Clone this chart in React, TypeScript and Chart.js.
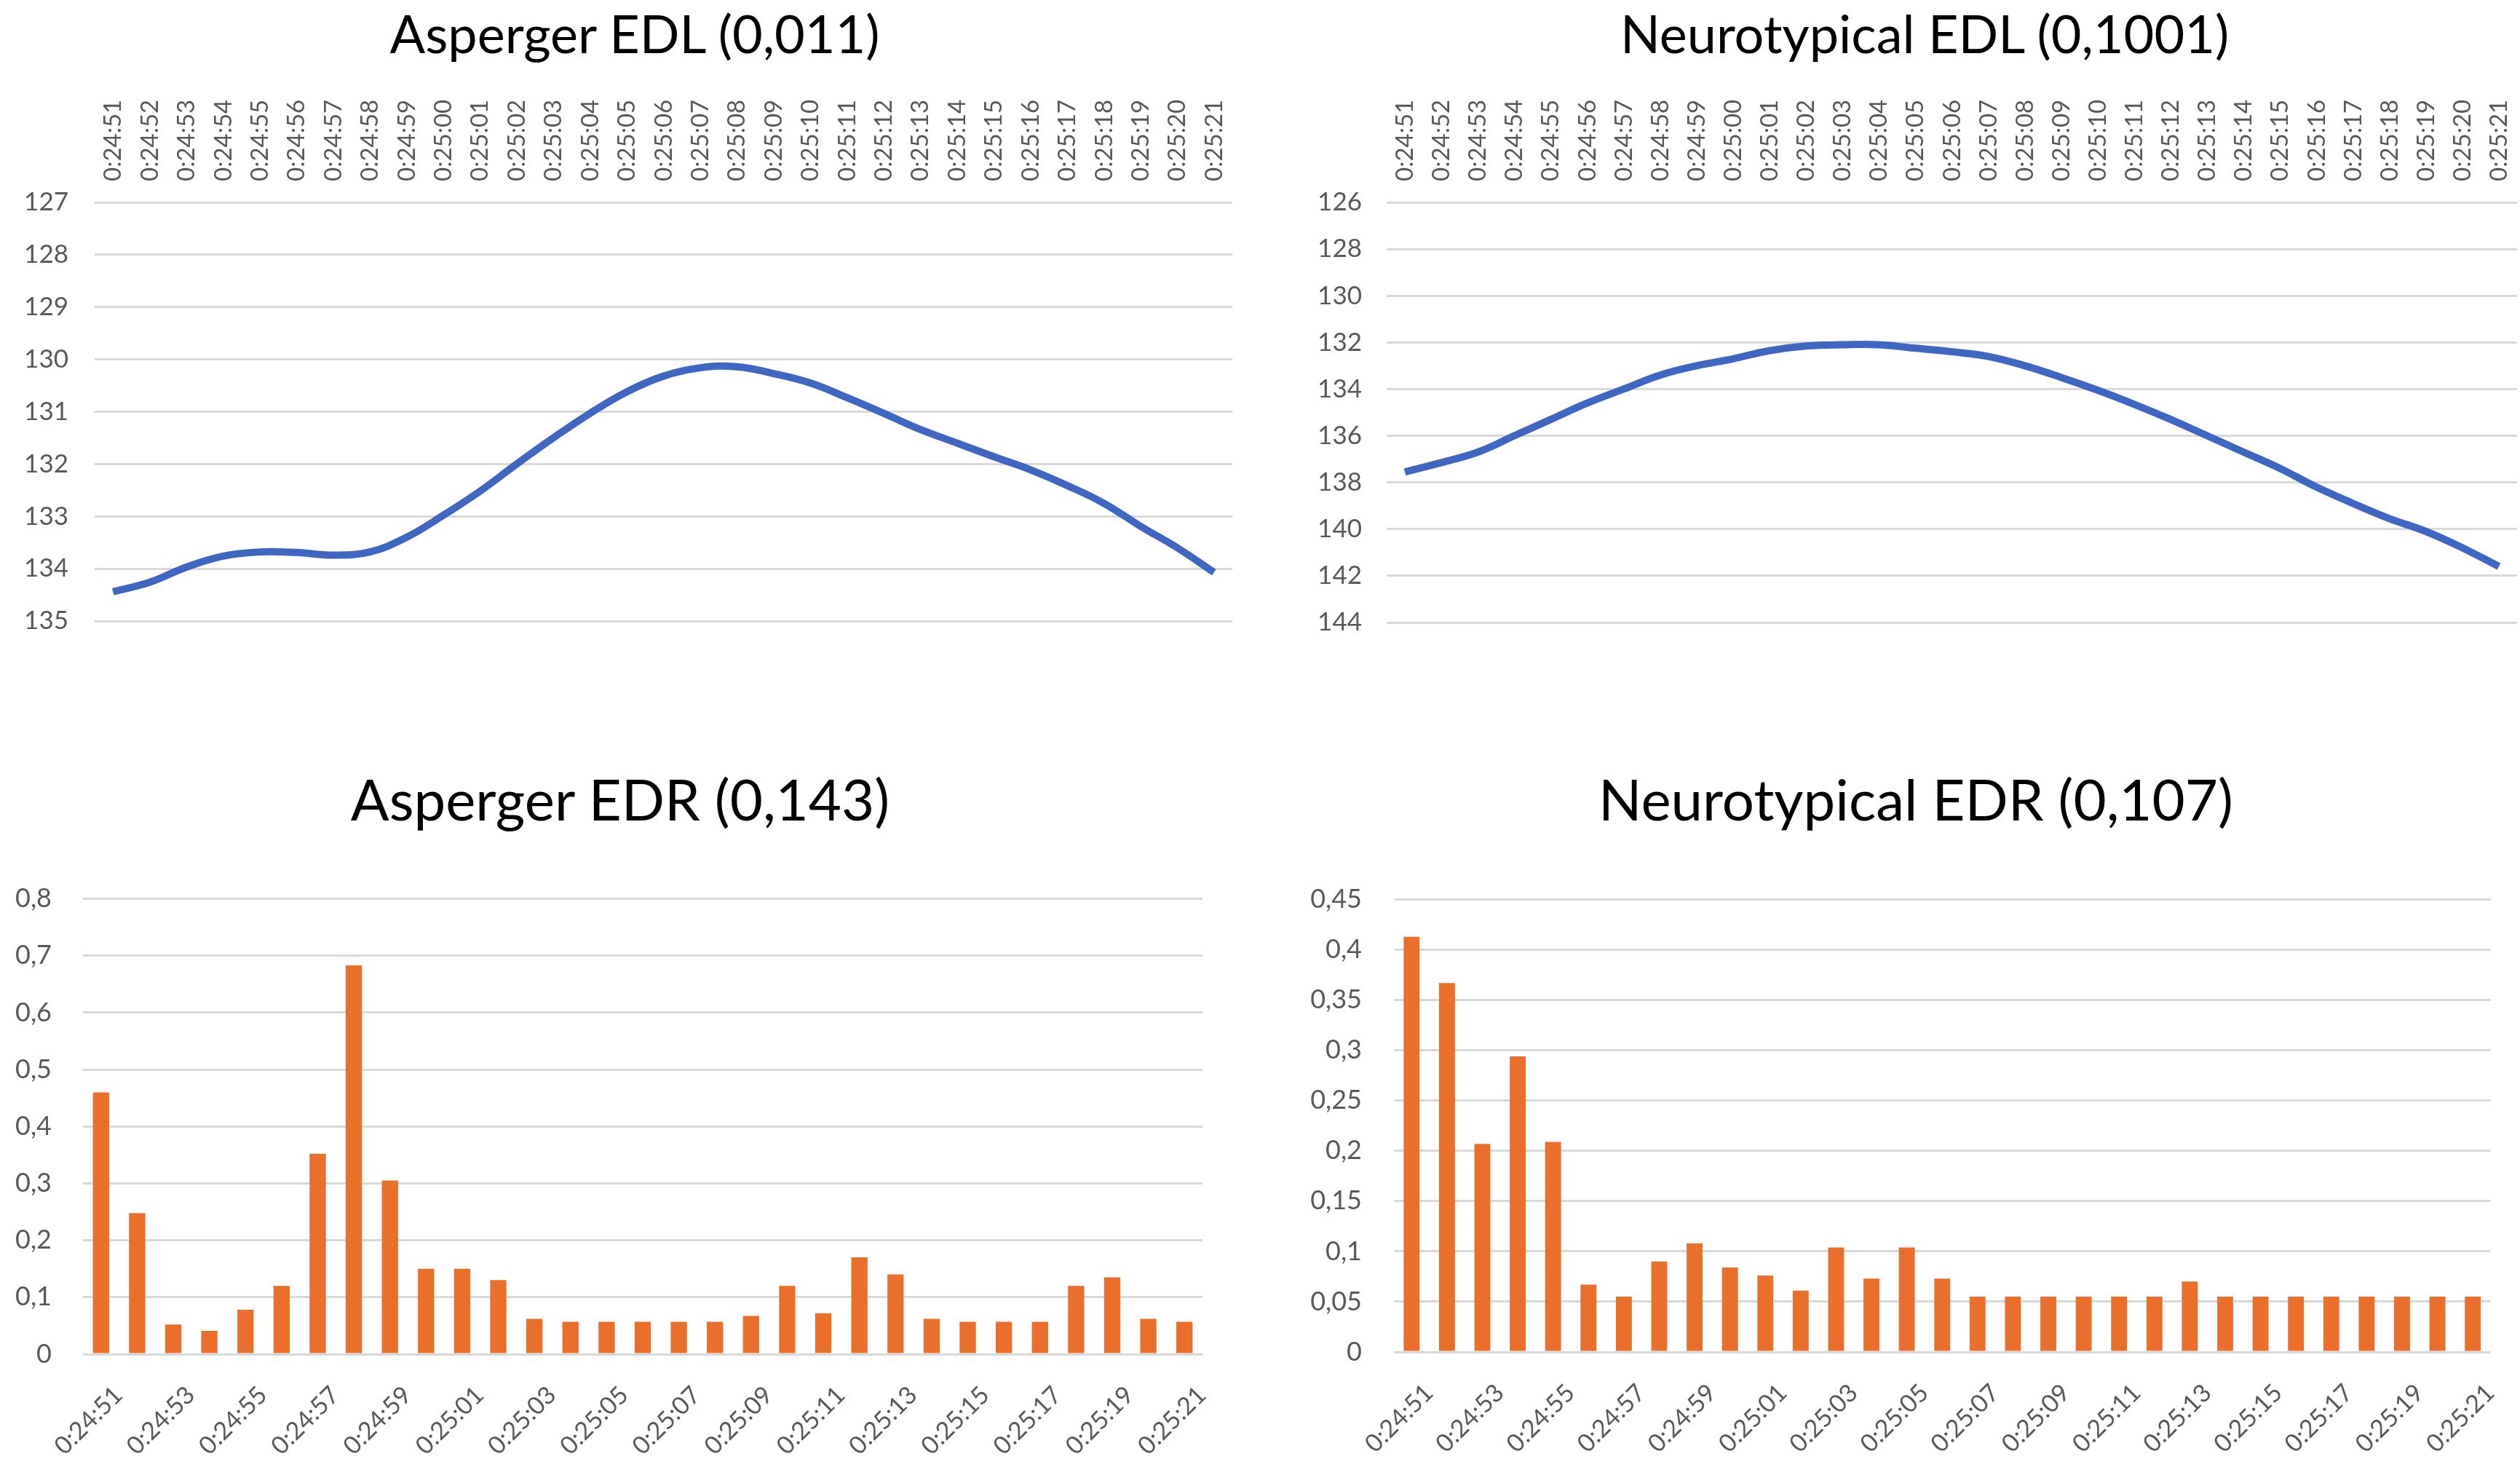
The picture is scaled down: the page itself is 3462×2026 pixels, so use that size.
import { useEffect, useRef } from 'react';
import { Chart, registerables, ChartConfiguration } from 'chart.js';

Chart.register(...registerables);

const TIMES = [
  '0:24:51', '0:24:52', '0:24:53', '0:24:54', '0:24:55', '0:24:56', '0:24:57', '0:24:58',
  '0:24:59', '0:25:00', '0:25:01', '0:25:02', '0:25:03', '0:25:04', '0:25:05', '0:25:06',
  '0:25:07', '0:25:08', '0:25:09', '0:25:10', '0:25:11', '0:25:12', '0:25:13', '0:25:14',
  '0:25:15', '0:25:16', '0:25:17', '0:25:18', '0:25:19', '0:25:20', '0:25:21',
];

const ASPERGER_EDL = [
  134.44, 134.26, 133.97, 133.76, 133.68, 133.69, 133.74, 133.68, 133.4, 132.98, 132.52,
  132.0, 131.5, 131.03, 130.62, 130.32, 130.16, 130.14, 130.27, 130.45, 130.73, 131.03,
  131.34, 131.6, 131.86, 132.11, 132.41, 132.75, 133.19, 133.6, 134.07,
];

const NEURO_EDL = [
  137.55, 137.15, 136.7, 136.0, 135.3, 134.6, 134.0, 133.4, 133.0, 132.7, 132.35,
  132.15, 132.1, 132.1, 132.25, 132.4, 132.6, 133.0, 133.5, 134.05, 134.65, 135.3,
  136.0, 136.7, 137.4, 138.2, 138.9, 139.55, 140.1, 140.8, 141.6,
];

const ASPERGER_EDR = [
  0.46, 0.248, 0.052, 0.041, 0.078, 0.12, 0.352, 0.683, 0.305, 0.15, 0.15,
  0.13, 0.062, 0.057, 0.057, 0.057, 0.057, 0.057, 0.067, 0.12, 0.072, 0.17,
  0.14, 0.062, 0.057, 0.057, 0.057, 0.12, 0.135, 0.062, 0.057,
];

const NEURO_EDR = [
  0.413, 0.367, 0.207, 0.294, 0.209, 0.067, 0.055, 0.09, 0.108, 0.084, 0.076,
  0.061, 0.104, 0.073, 0.104, 0.073, 0.055, 0.055, 0.055, 0.055, 0.055, 0.055,
  0.07, 0.055, 0.055, 0.055, 0.055, 0.055, 0.055, 0.055, 0.055,
];

const FONT = 'Lato, "Open Sans", sans-serif';
const TICK_COLOR = '#595959';
const GRID_COLOR = '#d9d9d9';
const LINE_COLOR = '#3f66c2';
const BAR_COLOR = '#ea6f2b';

// decimal comma like the original spreadsheet
const comma = (v: number) => String(Math.round(v * 100) / 100).replace('.', ',');

interface Box {
  left: number;
  top: number;
  width: number;
  height: number;
}

interface LineSetup {
  data: number[];
  min: number;
  max: number;
  step: number;
  yWidth: number;
  yPad: number;
  padRight: number;
}

function lineConfig(s: LineSetup): ChartConfiguration {
  return {
    type: 'line',
    data: {
      labels: TIMES,
      datasets: [{
        data: s.data,
        borderColor: LINE_COLOR,
        borderWidth: 10,
        pointRadius: 0,
        tension: 0.4,
        fill: false,
      }],
    },
    options: {
      responsive: true,
      maintainAspectRatio: false,
      animation: false,
      layout: { padding: { left: 0, top: 0, right: s.padRight, bottom: 33 } },
      plugins: { legend: { display: false }, tooltip: { enabled: false }, title: { display: false } },
      scales: {
        x: {
          position: 'top',
          offset: true,
          grid: { display: false, drawTicks: false },
          border: { display: false },
          ticks: {
            autoSkip: false,
            minRotation: 90,
            maxRotation: 90,
            padding: 29,
            labelOffset: 40,
            color: TICK_COLOR,
            font: { family: FONT, size: 33 },
          },
          afterFit: (scale: any) => { scale.height = 168; },
        },
        y: {
          reverse: true,
          min: s.min,
          max: s.max,
          grid: { color: GRID_COLOR, lineWidth: 3, drawTicks: false },
          border: { display: false },
          ticks: {
            stepSize: s.step,
            padding: s.yPad,
            color: TICK_COLOR,
            font: { family: FONT, size: 35 },
          },
          afterFit: (scale: any) => { scale.width = s.yWidth; },
        },
      },
    },
  } as ChartConfiguration;
}

interface BarSetup {
  data: number[];
  max: number;
  step: number;
  yWidth: number;
  yPad: number;
  padRight: number;
  xHeight: number;
}

function barConfig(s: BarSetup): ChartConfiguration {
  return {
    type: 'bar',
    data: {
      labels: TIMES,
      datasets: [{
        data: s.data,
        backgroundColor: BAR_COLOR,
        borderWidth: 0,
        barPercentage: 0.45,
        categoryPercentage: 1,
      }],
    },
    options: {
      responsive: true,
      maintainAspectRatio: false,
      animation: false,
      layout: { padding: { left: 0, top: 44, right: s.padRight, bottom: 0 } },
      plugins: { legend: { display: false }, tooltip: { enabled: false }, title: { display: false } },
      scales: {
        x: {
          grid: { display: false, drawTicks: false },
          border: { display: false },
          ticks: {
            autoSkip: false,
            minRotation: 45,
            maxRotation: 45,
            padding: 36,
            labelOffset: 24,
            color: TICK_COLOR,
            font: { family: FONT, size: 34 },
            callback: (_v: any, i: number) => (i % 2 === 0 ? TIMES[i] : ''),
          },
          afterFit: (scale: any) => { scale.height = s.xHeight; },
        },
        y: {
          min: 0,
          max: s.max,
          grid: { color: GRID_COLOR, lineWidth: 3, drawTicks: false },
          border: { display: false },
          ticks: {
            stepSize: s.step,
            padding: s.yPad,
            color: TICK_COLOR,
            font: { family: FONT, size: 36 },
            callback: (v: any) => comma(Number(v)),
          },
          afterFit: (scale: any) => { scale.width = s.yWidth; },
        },
      },
    },
  } as ChartConfiguration;
}

function ChartBox({ box, makeConfig }: { box: Box; makeConfig: () => ChartConfiguration }) {
  const canvasRef = useRef<HTMLCanvasElement | null>(null);

  useEffect(() => {
    if (!canvasRef.current) return;
    const chart = new Chart(canvasRef.current, makeConfig());
    return () => chart.destroy();
  }, []);

  return (
    <div style={{ position: 'absolute', left: box.left, top: box.top, width: box.width, height: box.height }}>
      <canvas ref={canvasRef} />
    </div>
  );
}

function Title({ text, center, top, size }: { text: string; center: number; top: number; size: number }) {
  return (
    <div
      style={{
        position: 'absolute',
        left: center - 700,
        width: 1400,
        top,
        textAlign: 'center',
        fontFamily: FONT,
        fontSize: size,
        lineHeight: 1.2,
        color: '#000',
        whiteSpace: 'nowrap',
      }}
    >
      {text}
    </div>
  );
}

export default function App() {
  return (
    <div style={{ position: 'absolute', left: 0, top: 0, width: 3462, height: 2026, background: '#fff', overflow: 'hidden' }}>
      <Title text="Asperger EDL (0,011)" center={872} top={2} size={72} />
      <Title text="Neurotypical EDL (0,1001)" center={2644} top={2} size={72} />
      <Title text="Asperger EDR (0,143)" center={852} top={1051} size={78} />
      <Title text="Neurotypical EDR (0,107)" center={2632} top={1051} size={78} />

      <ChartBox
        box={{ left: 0, top: 110, width: 1730, height: 800 }}
        makeConfig={() => lineConfig({ data: ASPERGER_EDL, min: 127, max: 135, step: 1, yWidth: 130, yPad: 36, padRight: 37 })}
      />
      <ChartBox
        box={{ left: 1730, top: 110, width: 1732, height: 800 }}
        makeConfig={() => lineConfig({ data: NEURO_EDL, min: 126, max: 144, step: 2, yWidth: 175, yPad: 34, padRight: 0 })}
      />
      <ChartBox
        box={{ left: 0, top: 1170, width: 1730, height: 856 }}
        makeConfig={() => barConfig({ data: ASPERGER_EDR, max: 0.8, step: 0.1, yWidth: 114, yPad: 43, padRight: 78, xHeight: 166 })}
      />
      <ChartBox
        box={{ left: 1730, top: 1170, width: 1732, height: 856 }}
        makeConfig={() => barConfig({ data: NEURO_EDR, max: 0.45, step: 0.05, yWidth: 185, yPad: 44, padRight: 0, xHeight: 169 })}
      />
    </div>
  );
}
